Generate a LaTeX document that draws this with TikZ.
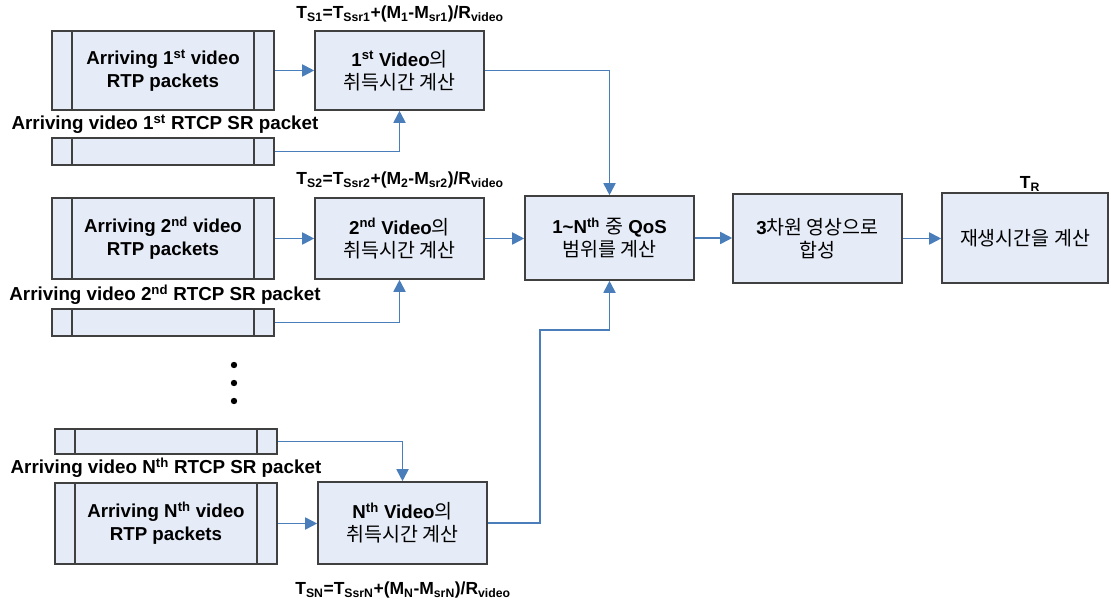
\documentclass[tikz,border=0pt]{standalone}
\usepackage{fontspec}
\setmainfont{Liberation Sans}
\newfontfamily\krfont{Noto Sans CJK KR}
\usetikzlibrary{arrows.meta}
\definecolor{boxfill}{HTML}{E6ECF7}
\definecolor{boxline}{HTML}{404040}
\definecolor{arrblue}{HTML}{4A7EBB}
\newcommand{\kor}[1]{{\krfont\mdseries\fontsize{19.5}{23}\selectfont #1}}
\begin{document}
\begin{tikzpicture}[x=1pt,y=-1pt,
 box/.style={draw=boxline, fill=boxfill, line width=1.6pt, inner sep=0pt, align=center, font=\fontsize{18.7}{23}\selectfont\bfseries},
 packet/.style={box, path picture={\draw[boxline, line width=1.6pt]
   ([xshift=20pt]path picture bounding box.north west) -- ([xshift=20pt]path picture bounding box.south west)
   ([xshift=-20pt]path picture bounding box.north east) -- ([xshift=-20pt]path picture bounding box.south east);}},
 arr/.style={draw=arrblue, line width=1.8pt, -{Triangle[length=12pt,width=12pt]}},
 lbl/.style={font=\fontsize{18.8}{22}\selectfont\bfseries, inner sep=0pt},
 frm/.style={font=\fontsize{17.5}{20}\selectfont\bfseries, inner sep=0pt}]
\useasboundingbox (0,0) rectangle (1111,601);

% Row 1
\node[frm] (f1) at (400,14) {T\textsubscript{S1}=T\textsubscript{Ssr1}+(M\textsubscript{1}-M\textsubscript{sr1})/R\textsubscript{video}};
\node[packet, minimum width=222pt, minimum height=79pt] (r1) at (163,70.5) {Arriving 1\textsuperscript{st} video\\RTP packets};
\node[box, minimum width=169pt, minimum height=79pt] (v1) at (399.5,70.5) {1\textsuperscript{st} Video\kor{의}\\\kor{취득시간 계산}};
\node[lbl] (l1) at (165,124) {Arriving video 1\textsuperscript{st} RTCP SR packet};
\node[packet, minimum width=222pt, minimum height=27pt] (s1) at (163,151.5) {};

% Row 2
\node[frm] (f2) at (400,180) {T\textsubscript{S2}=T\textsubscript{Ssr2}+(M\textsubscript{2}-M\textsubscript{sr2})/R\textsubscript{video}};
\node[packet, minimum width=222pt, minimum height=81pt] (r2) at (163,238.5) {Arriving 2\textsuperscript{nd} video\\RTP packets};
\node[box, minimum width=169pt, minimum height=81pt] (v2) at (399.5,238.5) {2\textsuperscript{nd} Video\kor{의}\\\kor{취득시간 계산}};
\node[lbl] (l2) at (165,295) {Arriving video 2\textsuperscript{nd} RTCP SR packet};
\node[packet, minimum width=222pt, minimum height=27pt] (s2) at (163,322.5) {};

% dots
\fill (234,365) circle (3.2pt);
\fill (234,383) circle (3.2pt);
\fill (234,401) circle (3.2pt);

% Row N
\node[packet, minimum width=222pt, minimum height=25pt] (sN) at (166,441.5) {};
\node[lbl] (lN) at (166,468) {Arriving video N\textsuperscript{th} RTCP SR packet};
\node[packet, minimum width=222pt, minimum height=81pt] (rN) at (166,523.5) {Arriving N\textsuperscript{th} video\\RTP packets};
\node[box, minimum width=169pt, minimum height=82pt] (vN) at (402.5,523) {N\textsuperscript{th} Video\kor{의}\\\kor{취득시간 계산}};
\node[frm] (fN) at (403,590) {T\textsubscript{SN}=T\textsubscript{SsrN}+(M\textsubscript{N}-M\textsubscript{srN})/R\textsubscript{video}};

% right part
\node[box, minimum width=169pt, minimum height=84pt] (q) at (609.5,238) {1\textasciitilde N\textsuperscript{th} \kor{중} QoS\\\kor{범위를 계산}};
\node[box, minimum width=169pt, minimum height=89pt] (d) at (817.5,238.5) {3\kor{차원 영상으로}\\\kor{합성}};
\node[box, minimum width=166pt, minimum height=90pt] (e) at (1025,238) {\kor{재생시간을 계산}};
\node[frm] (tr) at (1030,184) {T\textsubscript{R}};

\coordinate (k1) at (540,330);

% connectors
\draw[arr] (r1.east) -- (r1.east -| v1.west);
\draw[arr] (s1.east) -| (v1.south);
\draw[arr] (v1.east) -| (q.north);
\draw[arr] (r2.east) -- (r2.east -| v2.west);
\draw[arr] (s2.east) -| (v2.south);
\draw[arr] (v2.east) -- (v2.east -| q.west);
\draw[arr] (sN.east) -| (vN.north);
\draw[arr] (rN.east) -- (rN.east -| vN.west);
\draw[arr] (vN.east) -| (k1) -| (q.south);
\draw[arr] (q.east) -- (q.east -| d.west);
\draw[arr] (d.east) -- (d.east -| e.west);
\end{tikzpicture}
\end{document}
